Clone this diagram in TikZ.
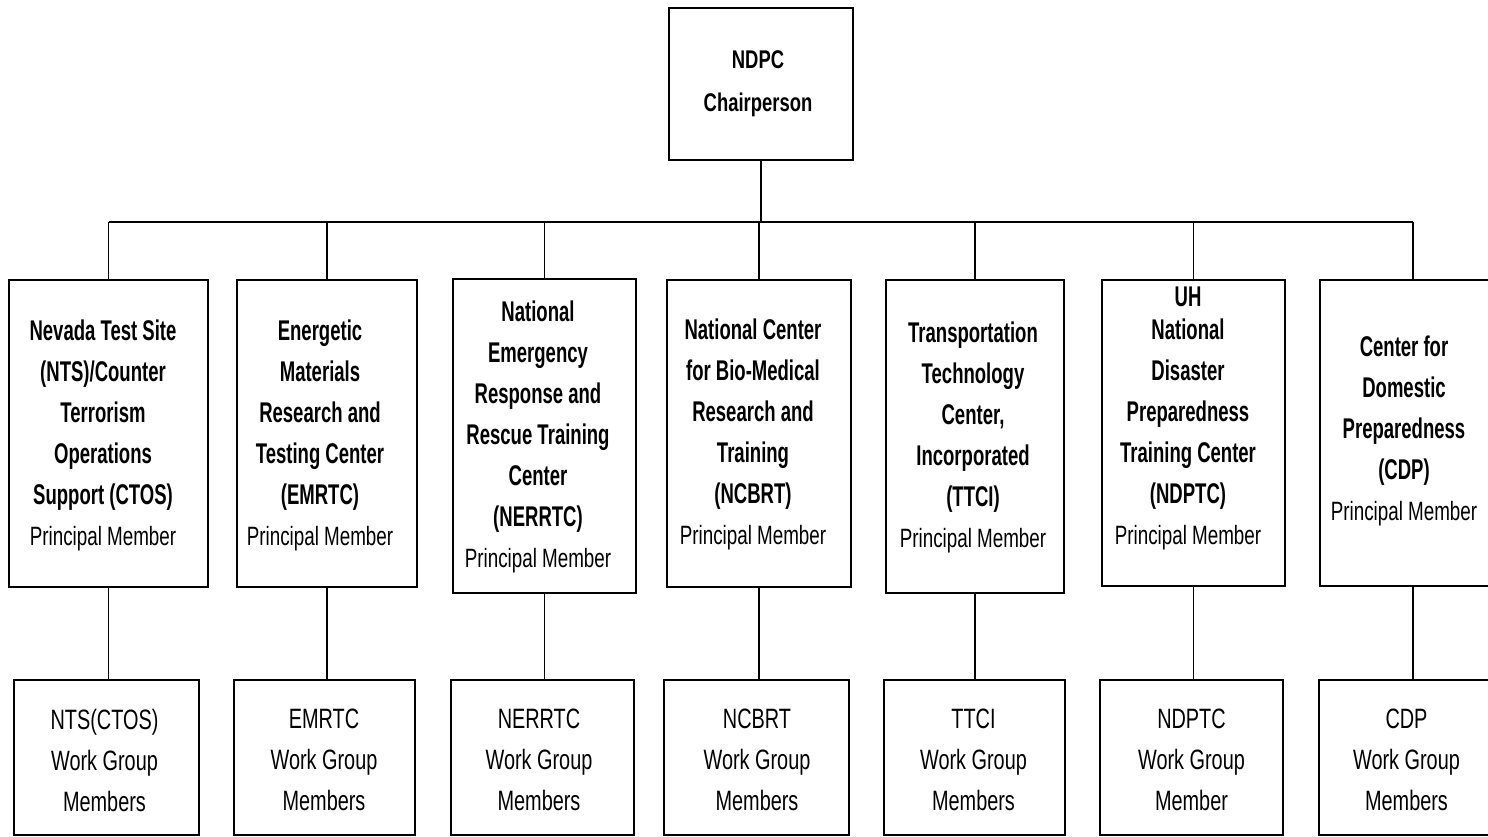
\documentclass[tikz,border=0pt]{standalone}
\usepackage{fontspec}
\setmainfont[FakeStretch=0.71]{Liberation Sans}
\newfontfamily\midbold[FakeStretch=0.65]{Liberation Sans}
\newfontfamily\topfont[FakeStretch=0.72]{Liberation Sans}
\newcommand{\pmember}{\normalfont\fontsize{26.5}{41}\selectfont Principal Member}
\begin{document}
\begin{tikzpicture}[x=1pt,y=-1pt,
  box/.style={draw, line width=1.8pt, rectangle, inner sep=0pt},
  conn/.style={line width=1.6pt},
  bt/.style={align=center, inner sep=0pt, font=\midbold\fontsize{28.5}{41}\selectfont\bfseries},
  wt/.style={align=center, inner sep=0pt, font=\fontsize{28}{41}\selectfont}]
\path[use as bounding box] (0,0) rectangle (1488,836);
\clip (0,0) rectangle (1488,836);

% top box
\node[box, minimum width=184pt, minimum height=152pt] (top) at (761,84) {};
\node[align=center, inner sep=0pt, font=\topfont\fontsize{25.6}{43}\selectfont\bfseries] (ttop) at (758,84) {NDPC\\Chairperson};

% middle boxes
\node[box, minimum width=199pt, minimum height=307pt] (m1) at (108.5,433.5) {};
\node[box, minimum width=180pt, minimum height=307pt] (m2) at (327,433.5) {};
\node[box, minimum width=183pt, minimum height=314pt] (m3) at (544.5,436) {};
\node[box, minimum width=184pt, minimum height=307pt] (m4) at (759,433.5) {};
\node[box, minimum width=178pt, minimum height=313pt] (m5) at (975,436.5) {};
\node[box, minimum width=183pt, minimum height=306pt] (m6) at (1193.5,433) {};
\node[box, minimum width=186pt, minimum height=306pt] (m7) at (1413,433) {};

\node[bt] (t1) at (103,435) {Nevada Test Site\\(NTS)/Counter\\Terrorism\\Operations\\Support (CTOS)\\\pmember};
\node[bt] (t2) at (320,435) {Energetic\\Materials\\Research and\\Testing Center\\(EMRTC)\\\pmember};
\node[bt] (t3) at (538,437) {National\\Emergency\\Response and\\Rescue Training\\Center\\(NERRTC)\\\pmember};
\node[bt] (t4) at (753,434) {National Center\\for Bio-Medical\\Research and\\Training\\(NCBRT)\\\pmember};
\node[bt] (t5) at (973,437.5) {Transportation\\Technology\\Center,\\Incorporated\\(TTCI)\\\pmember};
\node[bt] (t6) at (1188,418) {UH\\[-8pt]National\\Disaster\\Preparedness\\Training Center\\(NDPTC)\\\pmember};
\node[bt] (t7) at (1404,431) {Center for\\Domestic\\Preparedness\\(CDP)\\\pmember};

% bottom boxes
\node[box, minimum width=185pt, minimum height=155pt] (b1) at (106.5,757.5) {};
\node[box, minimum width=181pt, minimum height=155pt] (b2) at (324.5,757.5) {};
\node[box, minimum width=183pt, minimum height=155pt] (b3) at (542.5,757.5) {};
\node[box, minimum width=185pt, minimum height=155pt] (b4) at (756.5,757.5) {};
\node[box, minimum width=181pt, minimum height=155pt] (b5) at (974.5,757.5) {};
\node[box, minimum width=183pt, minimum height=155pt] (b6) at (1191.5,757.5) {};
\node[box, minimum width=184pt, minimum height=155pt] (b7) at (1411,757.5) {};

\node[wt] (w1) at (104.5,760) {NTS(CTOS)\\Work Group\\Members};
\node[wt] (w2) at (324,760) {EMRTC\\Work Group\\Members};
\node[wt] (w3) at (539,760) {NERRTC\\Work Group\\Members};
\node[wt] (w4) at (757,760) {NCBRT\\Work Group\\Members};
\node[wt] (w5) at (973.5,760) {TTCI\\Work Group\\Members};
\node[wt] (w6) at (1191.5,760) {NDPTC\\Work Group\\Member};
\node[wt] (w7) at (1406.5,760) {CDP\\Work Group\\Members};

% connectors
\coordinate (bar) at (761,222);
\draw[conn] (top.south) -- (top.south |- bar);
\draw[conn] (m1.north |- bar) -- (m7.north |- bar);
\foreach \i in {1,...,7}{
  \draw[conn] (m\i.north |- bar) -- (m\i.north);
  \draw[conn] (m\i.south) -- (m\i.south |- b\i.north);
}
\end{tikzpicture}
\end{document}
